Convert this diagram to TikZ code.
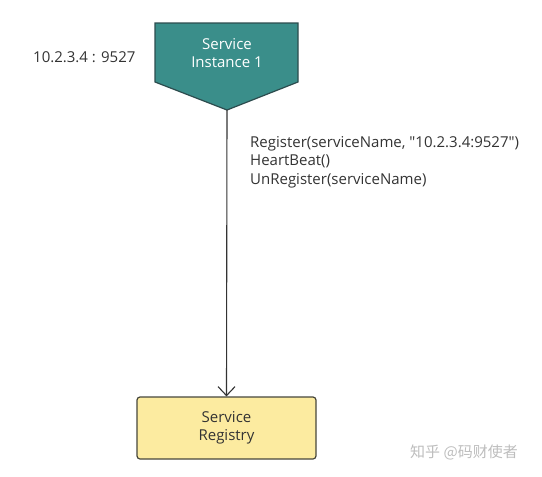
\documentclass[tikz,border=0pt]{standalone}
\usepackage{fontspec}
\setmainfont{Open Sans}
\newfontfamily\cjkfont{Noto Sans CJK SC}
\usepackage{xcolor}
\usetikzlibrary{arrows.meta}
\definecolor{teal}{HTML}{3A8E8A}
\definecolor{tealline}{HTML}{2C4C4E}
\definecolor{regfill}{HTML}{FCEBA0}
\definecolor{regline}{HTML}{47473C}
\definecolor{ink}{HTML}{333333}
\definecolor{mark}{HTML}{BDBDBD}

\begin{document}
\begin{tikzpicture}[x=1pt,y=-1pt,font=\fontsize{15}{18.5}\selectfont,
		lbl/.style={text=ink,inner sep=0pt},
		wire/.style={draw=ink,line width=1.1pt,-{Straight Barb[length=9pt,width=17pt]}}]
		\useasboundingbox (0,0) rectangle (542,477);
		%instance
		\draw[fill=teal,draw=tealline,line width=1.2pt] (155,23) -- (298,23) -- (298,82) -- (227,110) -- (155,82) -- cycle;
		\coordinate (tip) at (227,110);
		\node[text=white,align=center,inner sep=0pt] (inst) at (227,53) {Service\\Instance 1};
		%registry
		\node[draw=regline,fill=regfill,line width=1.2pt,rounded corners=3pt,minimum width=179pt,minimum height=62pt,align=center,text=ink] (reg) at (226.5,428) {Service\\Registry};
		%call
		\draw[wire] (tip) -- (reg.north);
		%labels
		\node[lbl,anchor=west] (addr) at (33,57) {10.2.3.4 : 9527};
		\node[lbl,anchor=north west,align=left] (calls) at (250,136) {Register(serviceName, \textquotedbl10.2.3.4:9527\textquotedbl)\\HeartBeat()\\UnRegister(serviceName)};
		%watermark
		\node[text=mark,anchor=west,inner sep=0pt,font=\cjkfont\fontsize{15}{18}\selectfont] (wm) at (410,452) {知乎 @码财使者};
\end{tikzpicture}
\end{document}
